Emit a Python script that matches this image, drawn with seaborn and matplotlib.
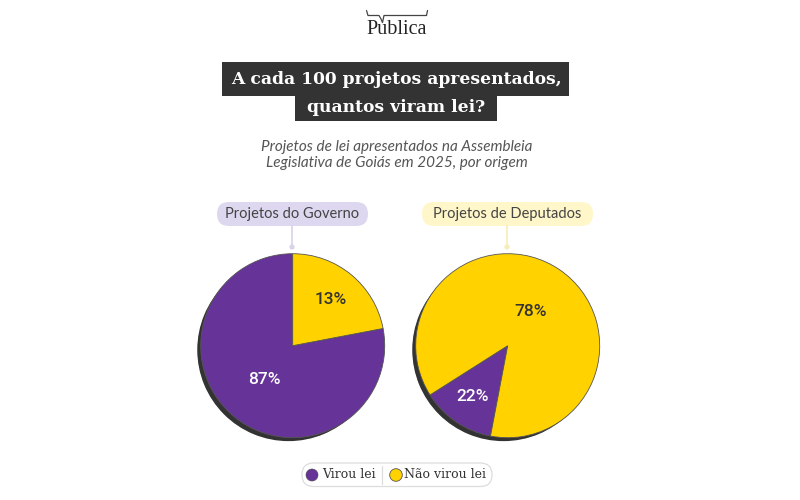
import numpy as np
import pandas as pd
import seaborn as sns
import matplotlib.pyplot as plt
from matplotlib.patches import FancyBboxPatch, Rectangle, Circle

sns.set_theme(style='white')
plt.rcParams['font.family'] = ['Lato', 'DejaVu Sans']

# dados (fatias como aparecem desenhadas; rotulos como impressos)
categorias = ['Virou lei', 'Não virou lei']
fatias_governo = [78, 22]
rotulos_governo = ['87%', '13%']
fatias_deputados = [13, 87]
rotulos_deputados = ['22%', '78%']
titulos_pizza = ['Projetos do Governo', 'Projetos de Deputados']

roxo = '#663399'
amarelo = '#FFD200'
cinza = '#333333'

fig = plt.figure(figsize=(8, 5), dpi=100)
fig.patch.set_facecolor('white')

# camada de fundo em pixels
ax0 = fig.add_axes([0, 0, 1, 1])
ax0.set_xlim(0, 800)
ax0.set_ylim(500, 0)
ax0.axis('off')

# logo
ax0.text(397, 30, 'Publica', ha='center', va='center', fontsize=14.5,
         family='Liberation Serif', color='#222222')
ax0.plot([366.5, 368, 379, 381, 382.5, 384, 425, 426.5, 427.5],
         [10.5, 15.5, 15.5, 19, 22.5, 15.5, 15.5, 15.5, 10.5],
         color='#444444', lw=0.9, solid_capstyle='round')

# titulo
ax0.add_patch(Rectangle((222, 62), 347, 34, color=cinza, lw=0))
ax0.add_patch(Rectangle((295, 96), 202, 25, color=cinza, lw=0))
ax0.text(396, 79.5, 'A cada 100 projetos apresentados,', ha='center', va='center',
         fontsize=12.3, weight='bold', family='DejaVu Serif', color='white')
ax0.text(396, 107, 'quantos viram lei?', ha='center', va='center',
         fontsize=12.3, weight='bold', family='DejaVu Serif', color='white')

# subtitulo
ax0.text(397, 147, 'Projetos de lei apresentados na Assembleia', ha='center', va='center',
         fontsize=11, style='italic', color='#555555')
ax0.text(397, 163, 'Legislativa de Goiás em 2025, por origem', ha='center', va='center',
         fontsize=11, style='italic', color='#555555')

# etiquetas das pizzas
centros = [(292.7, 345.7), (507.7, 345.7)]
raio = 92
pilulas = [(217, 151, '#DDD7EF', '#D8D2EA'), (422, 171, '#FFF6C9', '#F7EDB8')]
for (cx, cy), (x0, w, cor, cor_linha), titulo in zip(centros, pilulas, titulos_pizza):
    ax0.add_patch(FancyBboxPatch((x0, 202), w, 24,
                                 boxstyle='round,pad=0,rounding_size=12',
                                 fc=cor, ec='none'))
    ax0.text(x0 + w / 2, 214, titulo, ha='center', va='center',
             fontsize=10.5, color='#444444')
    ax0.plot([cx - 0.7, cx - 0.7], [226, 246], color=cor_linha, lw=1.2)
    ax0.add_patch(Circle((cx - 0.7, 247), 2.6, color=cor_linha, lw=0))

# pizzas
config = [
    (fatias_governo, rotulos_governo, 90, [0.48, 0.65]),
    (fatias_deputados, rotulos_deputados, 212.4, [0.67, 0.45]),
]
lim = 100 / raio
for (cx, cy), (fatias, rotulos, inicio, dist) in zip(centros, config):
    ax = fig.add_axes([(cx - 100) / 800, (500 - cy - 100) / 500, 200 / 800, 200 / 500])
    ax.pie([1], colors=[cinza], radius=1, center=(-0.045, -0.045), startangle=90)
    wedges, _ = ax.pie(fatias, colors=[roxo, amarelo], startangle=inicio,
                       wedgeprops=dict(edgecolor='#555555', linewidth=0.6))
    for w, rot, d, cor_txt in zip(wedges, rotulos, dist, ['white', cinza]):
        ang = np.deg2rad((w.theta1 + w.theta2) / 2)
        ax.text(d * np.cos(ang), d * np.sin(ang), rot, ha='center', va='center',
                fontsize=12.5, weight='medium', color=cor_txt, family='Roboto')
    ax.set_xlim(-lim, lim)
    ax.set_ylim(-lim, lim)
    ax.set_aspect('equal')
    ax.axis('off')

# legenda
ax0.add_patch(FancyBboxPatch((302, 463), 190, 23.5,
                             boxstyle='round,pad=0,rounding_size=11.5',
                             fc='white', ec='#DDDDDD', lw=0.9))
ax0.add_patch(Circle((312, 475), 6, fc=roxo, ec='#444444', lw=0.4))
ax0.text(322.5, 475, categorias[0], ha='left', va='center', fontsize=9,
         family='DejaVu Serif', color='#333333')
ax0.plot([382, 382], [466, 484], color='#DDDDDD', lw=0.9)
ax0.add_patch(Circle((396, 475), 6.3, fc=amarelo, ec='#555555', lw=0.6))
ax0.text(404.5, 475, categorias[1], ha='left', va='center', fontsize=9,
         family='DejaVu Serif', color='#333333')

fig.savefig('out.png', dpi=100, facecolor='white')
